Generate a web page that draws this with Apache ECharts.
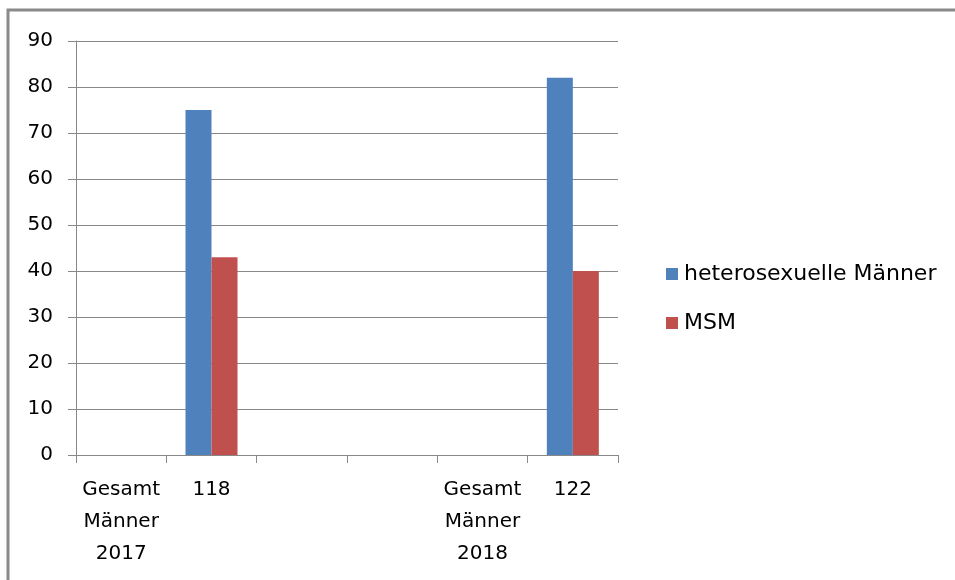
<!DOCTYPE html>
<html>
<head>
<meta charset="utf-8">
<script src="https://cdn.jsdelivr.net/npm/echarts@6/dist/echarts.min.js"></script>
<style>html,body{margin:0;padding:0;background:#fff;}#c{width:955px;height:580px;}</style>
</head>
<body>
<div id="c"></div>
<script>
var categories = ["Gesamt\nMänner\n2017", "118", "", " ", "Gesamt\nMänner\n2018", "122"];
var seriesNames = ["heterosexuelle Männer", "MSM"];
var heteroValues = [null, 75, null, null, null, 82];
var msmValues = [null, 43, null, null, null, 40];
var yTicks = {min: 0, max: 90, interval: 10};

var chart = echarts.init(document.getElementById('c'), null, {renderer: 'canvas'});
var font = "'DejaVu Sans', Verdana, sans-serif";
chart.setOption({
  animation: false,
  backgroundColor: '#fff',
  graphic: [{
    type: 'polyline',
    shape: {points: [[8, 600], [8, 10], [960, 10]]},
    style: {stroke: '#8a8a8a', lineWidth: 3, fill: null},
    silent: true
  }],
  grid: {left: 76, right: 337, top: 41, bottom: 125, containLabel: false},
  legend: {
    orient: 'vertical',
    left: 661,
    top: 258,
    itemWidth: 12,
    itemHeight: 12,
    itemGap: 27,
    icon: 'rect',
    textStyle: {fontFamily: font, fontSize: 22, color: '#000', padding: [0, 0, 0, 1]},
    data: seriesNames
  },
  xAxis: {
    type: 'category',
    data: categories,
    axisLine: {lineStyle: {color: '#888', width: 1}},
    axisTick: {show: true, length: 8, alignWithLabel: false, lineStyle: {color: '#888'}},
    axisLabel: {interval: 0, fontFamily: font, fontSize: 20, lineHeight: 32, color: '#000', margin: 19},
    splitLine: {show: false}
  },
  yAxis: {
    type: 'value',
    min: yTicks.min,
    max: yTicks.max,
    interval: yTicks.interval,
    axisLine: {show: true, lineStyle: {color: '#888', width: 1}},
    axisTick: {show: true, length: 8, lineStyle: {color: '#888'}},
    axisLabel: {fontFamily: font, fontSize: 20, color: '#000', margin: 23},
    splitLine: {show: true, lineStyle: {color: '#888', width: 1}}
  },
  series: [
    {name: seriesNames[0], type: 'bar', data: heteroValues, barWidth: 26, barGap: '0%', itemStyle: {color: '#4F81BD'}},
    {name: seriesNames[1], type: 'bar', data: msmValues, barWidth: 26, barGap: '0%', itemStyle: {color: '#C0504D'}}
  ]
});
</script>
</body>
</html>
